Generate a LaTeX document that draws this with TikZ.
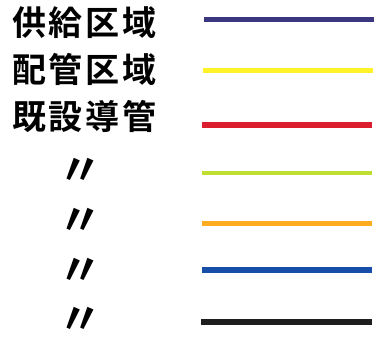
\documentclass[tikz,border=0pt]{standalone}
\usepackage{fontspec}
\newfontfamily\cjk[LetterSpace=8]{Noto Sans CJK JP Bold}
\usetikzlibrary{positioning}
\definecolor{kyokyu}{RGB}{58,54,128}
\definecolor{haikan}{RGB}{255,242,40}
\definecolor{kisetsu}{RGB}{218,30,45}
\definecolor{kimidori}{RGB}{190,222,52}
\definecolor{daidai}{RGB}{255,172,32}
\definecolor{ao}{RGB}{22,78,170}
\definecolor{kuro}{RGB}{30,30,30}

\begin{document}
\begin{tikzpicture}[ -, x=1pt, y=-1pt,
                    lbl/.style = {anchor=west, inner sep=0pt, font=\cjk\fontsize{34}{34}\selectfont},
                    ditto/.style = {inner sep=0pt, anchor=north, font=\cjk\fontsize{44}{44}\selectfont},
                    pipe/.style = {line width=5pt}]
\useasboundingbox (0,0) rectangle (376,338);
\node[lbl] (n1) at (12,23)  {供給区域};
\node[lbl] (n2) at (12,69)  {配管区域};
\node[lbl] (n3) at (12,116) {既設導管};
\node[ditto] (d4) at (81,158) {〃};
\node[ditto] (d5) at (81,208) {〃};
\node[ditto] (d6) at (81,258) {〃};
\node[ditto] (d7) at (81,307) {〃};
\coordinate (a1) at (204,19);  \coordinate (b1) at (374,19);
\coordinate (a2) at (203,70);  \coordinate (b2) at (373,70);
\coordinate (a3) at (202,125); \coordinate (b3) at (372,125);
\coordinate (a4) at (202,173); \coordinate (b4) at (372,173);
\coordinate (a5) at (202,223); \coordinate (b5) at (372,223);
\coordinate (a6) at (202,270); \coordinate (b6) at (372,270);
\coordinate (a7) at (201,322); \coordinate (b7) at (372,322);
    \path[pipe]
(a1) edge[kyokyu] (b1)
(a2) edge[haikan] (b2)
(a3) edge[kisetsu, line width=6pt] (b3)
(a4) edge[kimidori, line width=4pt] (b4)
(a5) edge[daidai] (b5)
(a6) edge[ao, line width=6pt] (b6)
(a7) edge[kuro, line width=6pt] (b7);
\end{tikzpicture}
\end{document}
